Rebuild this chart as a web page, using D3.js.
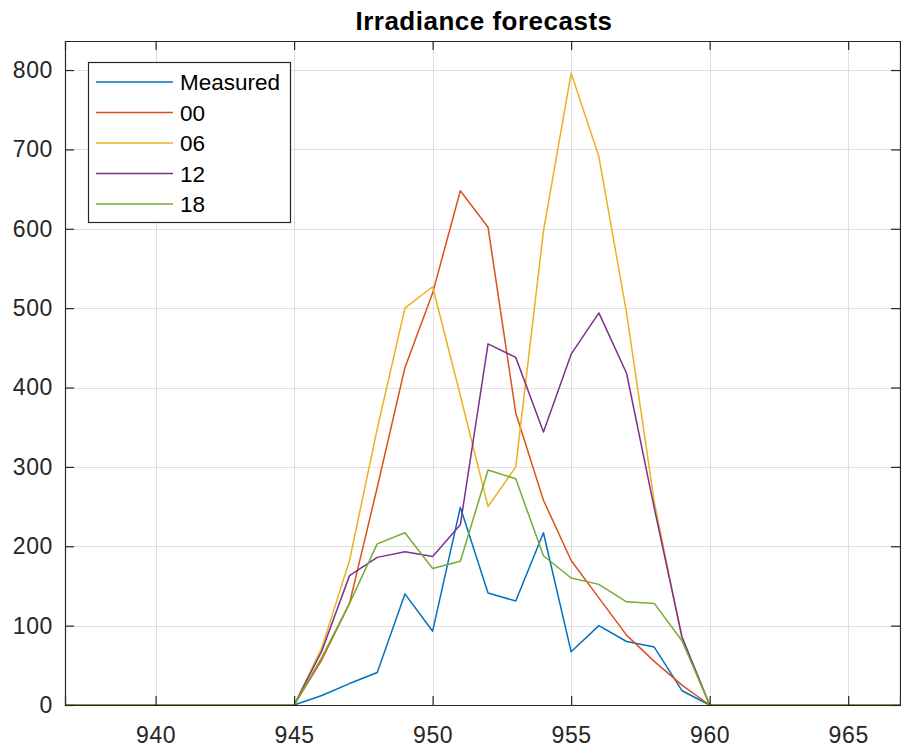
<!DOCTYPE html>
<html>
<head>
<meta charset="utf-8">
<script src="https://cdn.jsdelivr.net/npm/d3@7"></script>
<style>
  html, body { margin: 0; padding: 0; background: #fff; }
  svg { display: block; font-family: "Liberation Sans", Arial, sans-serif; }
</style>
</head>
<body>
<svg id="chart" width="901" height="751"></svg>
<script>
// Hour index (x axis) and the irradiance series drawn against it
const hours = d3.range(936, 968);
const activeHours = [945, 946, 947, 948, 949, 950, 951, 952, 953, 954, 955, 956, 957, 958, 959, 960];

const measured = [0, 12, 27, 41, 140, 93, 249, 141, 131, 217, 67, 100, 80, 73, 18, 0];
const run00    = [0, 57, 128, 274, 425, 519, 648, 602, 368, 258, 182, 135, 88, 55, 25, 0];
const run06    = [0, 72, 182, 348, 500, 527, 390, 250, 300, 597, 796, 691, 494, 256, 84, 0];
const run12    = [0, 68, 163, 186, 193, 187, 227, 455, 438, 344, 442, 494, 418, 248, 86, 0];
const run18    = [0, 60, 128, 203, 217, 172, 181, 296, 285, 188, 160, 152, 130, 128, 81, 0];

const seriesNames = ["Measured", "00", "06", "12", "18"];
const seriesValues = [measured, run00, run06, run12, run18];
const seriesColors = ["#0072BD", "#D95319", "#EDB120", "#7E2F8E", "#77AC30"];

const xTicks = [940, 945, 950, 955, 960, 965];
const yTicks = [0, 100, 200, 300, 400, 500, 600, 700, 800];
const titleText = "Irradiance forecasts";

// Expand each series to the full hour range (zero outside the active window)
function fullSeries(vals) {
  return hours.map(h => {
    const i = activeHours.indexOf(h);
    return { x: h, y: i >= 0 ? vals[i] : 0 };
  });
}

const svg = d3.select("#chart");
const margin = { left: 65, right: 1, top: 41, bottom: 46 };
const W = 901, H = 751;
const plotW = W - margin.left - margin.right;
const plotH = H - margin.top - margin.bottom;

const x = d3.scaleLinear().domain([936.73, 966.87]).range([margin.left, margin.left + plotW]);
const y = d3.scaleLinear().domain([0, 836.6]).range([margin.top + plotH, margin.top]);

const axisColor = "#262626";
const gridColor = "#dfdfdf";
const labelFont = "'Liberation Sans', Arial, sans-serif";

// Grid
const grid = svg.append("g");
grid.selectAll("line.gx").data(xTicks).join("line")
  .attr("x1", d => Math.round(x(d)) + 0.5).attr("x2", d => Math.round(x(d)) + 0.5)
  .attr("y1", margin.top).attr("y2", margin.top + plotH)
  .attr("stroke", gridColor).attr("stroke-width", 1);
grid.selectAll("line.gy").data(yTicks).join("line")
  .attr("y1", d => Math.round(y(d)) + 0.5).attr("y2", d => Math.round(y(d)) + 0.5)
  .attr("x1", margin.left).attr("x2", margin.left + plotW)
  .attr("stroke", gridColor).attr("stroke-width", 1);

// Lines
svg.append("defs").append("clipPath").attr("id", "plotClip")
  .append("rect").attr("x", margin.left).attr("y", margin.top - 2)
  .attr("width", plotW).attr("height", plotH + 4);

const line = d3.line().x(d => x(d.x)).y(d => y(d.y));
const lines = svg.append("g").attr("clip-path", "url(#plotClip)");
seriesValues.forEach((vals, i) => {
  lines.append("path")
    .datum(fullSeries(vals))
    .attr("d", line)
    .attr("fill", "none")
    .attr("stroke", seriesColors[i])
    .attr("stroke-width", 1.5)
    .attr("stroke-linejoin", "round");
});

// Axes: ticks pointing inward on all four sides
const tickLen = 9;
const bottomAxis = d3.axisBottom(x).tickValues(xTicks).tickSize(-tickLen).tickPadding(tickLen + 13).tickFormat(d3.format("d"));
const topAxis = d3.axisTop(x).tickValues(xTicks).tickSize(-tickLen).tickFormat("");
const leftAxis = d3.axisLeft(y).tickValues(yTicks).tickSize(-tickLen).tickPadding(tickLen + 3).tickFormat(d3.format("d"));
const rightAxis = d3.axisRight(y).tickValues(yTicks).tickSize(-tickLen).tickFormat("");

function styleAxis(g) {
  g.select(".domain").attr("stroke", axisColor).attr("stroke-width", 1.2);
  g.selectAll(".tick line").attr("stroke", axisColor).attr("stroke-width", 1.2);
  g.selectAll(".tick text").attr("fill", axisColor)
    .style("font-size", "23px")
    .style("letter-spacing", "0.6px")
    .style("font-family", labelFont);
}

svg.append("g").attr("transform", `translate(0,${margin.top + plotH})`).call(bottomAxis).call(styleAxis);
svg.append("g").attr("transform", `translate(0,${margin.top})`).call(topAxis).call(styleAxis);
svg.append("g").attr("transform", `translate(${margin.left},0)`).call(leftAxis).call(styleAxis);
svg.append("g").attr("transform", `translate(${margin.left + plotW},0)`).call(rightAxis).call(styleAxis);

// Title
svg.append("text")
  .attr("x", 484)
  .attr("y", 30)
  .attr("text-anchor", "middle")
  .attr("font-weight", "bold")
  .attr("font-size", 26)
  .attr("letter-spacing", "0.5px")
  .attr("fill", "#000")
  .text(titleText);

// Legend
const legend = svg.append("g");
legend.append("rect")
  .attr("x", 88.5).attr("y", 62.5).attr("width", 202).attr("height", 160)
  .attr("fill", "#fff").attr("stroke", axisColor).attr("stroke-width", 1.2);
seriesNames.forEach((name, i) => {
  const cy = 82 + i * 30.5;
  legend.append("line")
    .attr("x1", 96).attr("x2", 173).attr("y1", cy).attr("y2", cy)
    .attr("stroke", seriesColors[i]).attr("stroke-width", 1.5);
  legend.append("text")
    .attr("x", 180).attr("y", cy + 8)
    .attr("font-size", 22.5).attr("fill", "#000")
    .text(name);
});
</script>
</body>
</html>
